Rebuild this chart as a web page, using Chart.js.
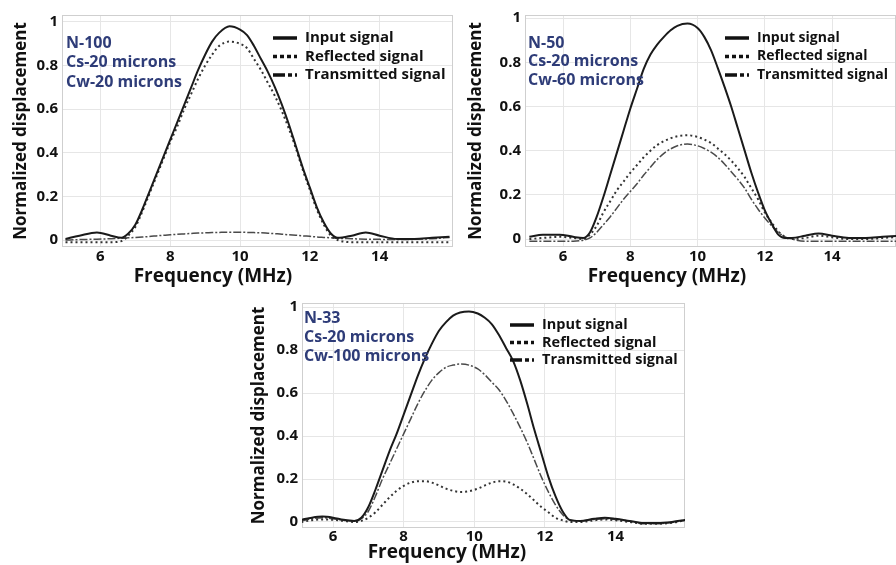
<!DOCTYPE html>
<html>
<head>
<meta charset="utf-8">
<script src="https://cdn.jsdelivr.net/npm/chart.js@4.4.0/dist/chart.umd.min.js"></script>
<style>
    html, body { margin: 0; padding: 0; background: #fff; }
    body { width: 896px; height: 565px; position: relative; overflow: hidden; }
    .panel { position: absolute; }
</style>
</head>
<body>
<div class="panel" style="left:0;top:0;width:458px;height:292px"><canvas id="chartA"></canvas></div>
<div class="panel" style="left:458px;top:0;width:438px;height:292px"><canvas id="chartB"></canvas></div>
<div class="panel" style="left:220px;top:283px;width:475px;height:282px"><canvas id="chartC"></canvas></div>
<script>
// Tick labels shared by the three panels
const xTickValues = [6, 8, 10, 12, 14];
const yTickValues = [0, 0.2, 0.4, 0.6, 0.8, 1];
const yTickLabels = ['0', '0.2', '0.4', '0.6', '0.8', '1'];
const seriesLabels = ['Input signal', 'Reflected signal', 'Transmitted signal'];

// Panel A : N-100, Cw-20 microns
const notesA = ['N-100', 'Cs-20 microns', 'Cw-20 microns'];
const freqA = [5.0, 5.4, 5.9, 6.3, 6.6, 6.8, 7.0, 7.2, 7.4, 7.6, 7.8, 8.0, 8.2, 8.4, 8.6, 8.8, 9.0, 9.2, 9.4, 9.7,
    10.0, 10.2, 10.4, 10.6, 10.8, 11.0, 11.2, 11.4, 11.6, 11.8, 12.0, 12.2, 12.4, 12.6, 12.8, 13.2, 13.6, 14.0, 14.5, 15.0, 15.5, 16.0];
const inputA = [0.005, 0.02, 0.035, 0.02, 0.01, 0.03, 0.07, 0.14, 0.22, 0.30, 0.38, 0.46, 0.54, 0.62, 0.70, 0.78, 0.85, 0.91, 0.95, 0.98,
    0.965, 0.94, 0.89, 0.83, 0.77, 0.70, 0.62, 0.53, 0.43, 0.33, 0.24, 0.15, 0.08, 0.03, 0.01, 0.02, 0.035, 0.02, 0.005, 0.005, 0.01, 0.015];
const reflectedA = [-0.01, -0.01, -0.01, -0.01, -0.005, 0.02, 0.06, 0.13, 0.21, 0.29, 0.37, 0.45, 0.52, 0.60, 0.67, 0.74, 0.80, 0.85, 0.89, 0.91,
    0.90, 0.88, 0.83, 0.78, 0.72, 0.66, 0.59, 0.51, 0.42, 0.32, 0.23, 0.14, 0.07, 0.02, 0.0, -0.01, -0.01, -0.01, -0.01, -0.01, -0.01, -0.01];
const transmittedA = [0.0, 0.002, 0.004, 0.006, 0.008, 0.01, 0.012, 0.014, 0.016, 0.019, 0.022, 0.024, 0.026, 0.028, 0.03, 0.032, 0.033, 0.034, 0.035, 0.036,
    0.036, 0.035, 0.034, 0.033, 0.031, 0.029, 0.027, 0.024, 0.022, 0.019, 0.017, 0.014, 0.012, 0.01, 0.008, 0.006, 0.004, 0.003, 0.002, 0.003, 0.006, 0.012];

// Panel B : N-50, Cw-60 microns
const notesB = ['N-50', 'Cs-20 microns', 'Cw-60 microns'];
const freqB = freqA.slice();
const inputB = [0.01, 0.02, 0.02, 0.01, 0.005, 0.03, 0.10, 0.19, 0.29, 0.39, 0.49, 0.59, 0.68, 0.77, 0.835, 0.88, 0.915, 0.945, 0.965, 0.975,
    0.955, 0.915, 0.855, 0.775, 0.69, 0.60, 0.50, 0.40, 0.30, 0.21, 0.13, 0.07, 0.02, 0.005, 0.005, 0.015, 0.025, 0.015, 0.005, 0.005, 0.01, 0.015];
const reflectedB = [0.0, 0.005, 0.01, 0.005, 0.0, 0.02, 0.06, 0.12, 0.17, 0.22, 0.26, 0.30, 0.335, 0.37, 0.40, 0.425, 0.443, 0.456, 0.465, 0.47,
    0.462, 0.45, 0.435, 0.41, 0.385, 0.355, 0.32, 0.28, 0.23, 0.18, 0.12, 0.075, 0.035, 0.01, 0.0, 0.005, 0.015, 0.008, 0.0, 0.0, 0.005, 0.01];
const transmittedB = [-0.01, -0.01, -0.01, -0.01, -0.005, 0.005, 0.03, 0.065, 0.10, 0.14, 0.18, 0.215, 0.25, 0.29, 0.325, 0.36, 0.388, 0.408, 0.422, 0.43,
    0.422, 0.41, 0.393, 0.37, 0.34, 0.305, 0.27, 0.23, 0.18, 0.135, 0.095, 0.06, 0.03, 0.01, 0.0, -0.01, -0.01, -0.01, -0.01, -0.01, -0.01, -0.01];

// Panel C : N-33, Cw-100 microns
const notesC = ['N-33', 'Cs-20 microns', 'Cw-100 microns'];
const freqC = [5.1, 5.4, 5.7, 6.0, 6.3, 6.6, 6.8, 7.0, 7.2, 7.4, 7.6, 7.8, 8.0, 8.2, 8.4, 8.6, 8.8, 9.0, 9.2, 9.4, 9.6, 9.85,
    10.1, 10.3, 10.5, 10.7, 10.9, 11.1, 11.3, 11.5, 11.7, 11.9, 12.1, 12.3, 12.5, 12.7, 13.0, 13.4, 13.7, 14.0, 14.4, 14.8, 15.2, 15.6, 16.0];
const inputC = [0.01, 0.02, 0.025, 0.02, 0.01, 0.005, 0.02, 0.07, 0.15, 0.24, 0.33, 0.41, 0.50, 0.59, 0.68, 0.76, 0.83, 0.89, 0.93, 0.96, 0.975, 0.98,
    0.97, 0.95, 0.92, 0.87, 0.81, 0.75, 0.66, 0.55, 0.43, 0.32, 0.21, 0.12, 0.05, 0.01, 0.005, 0.015, 0.02, 0.015, 0.005, -0.005, -0.005, 0.0, 0.01];
const reflectedC = [0.0, 0.008, 0.012, 0.01, 0.005, 0.0, 0.005, 0.02, 0.045, 0.08, 0.115, 0.145, 0.168, 0.183, 0.19, 0.19, 0.183, 0.17, 0.155, 0.145, 0.14, 0.143,
    0.155, 0.17, 0.183, 0.19, 0.188, 0.175, 0.155, 0.13, 0.10, 0.07, 0.045, 0.02, 0.008, 0.0, 0.0, 0.008, 0.012, 0.008, 0.0, -0.008, -0.008, -0.004, 0.01];
const transmittedC = [0.005, 0.015, 0.02, 0.015, 0.008, 0.003, 0.015, 0.05, 0.12, 0.20, 0.27, 0.34, 0.41, 0.48, 0.55, 0.61, 0.66, 0.695, 0.72, 0.73, 0.735, 0.73,
    0.712, 0.685, 0.65, 0.615, 0.565, 0.505, 0.44, 0.37, 0.29, 0.21, 0.14, 0.08, 0.035, 0.01, 0.005, 0.012, 0.015, 0.012, 0.003, -0.008, -0.008, -0.002, 0.008];

const FONT = '"Open Sans", "DejaVu Sans", sans-serif';

/**
 * Dessine le cadre, le titre de l'axe X, les notes bleues et la légende.
 */
const insideText = {
    id: 'insideText',
    beforeDatasetsDraw(chart)
    {
        const {ctx, chartArea} = chart;
        ctx.save();
        ctx.strokeStyle = '#cfcfcf';
        ctx.lineWidth = 1;
        ctx.strokeRect(chartArea.left + 0.5, chartArea.top + 0.5, chartArea.width - 1, chartArea.height - 1);
        ctx.restore();
    },
    afterDatasetsDraw(chart, args, opts)
    {
        const {ctx, chartArea} = chart;
        ctx.save();
        ctx.textBaseline = 'middle';

        // titre de l'axe X, décalé vers la gauche comme sur la figure
        ctx.textAlign = 'center';
        ctx.font = `bold 19px ${FONT}`;
        ctx.fillStyle = '#111';
        ctx.fillText('Frequency (MHz)', chartArea.left + opts.titleX, chartArea.bottom + opts.titleY);

        ctx.textAlign = 'left';
        ctx.font = `bold ${opts.noteSize}px ${FONT}`;
        ctx.fillStyle = '#2e3c78';
        opts.notes.forEach((text, i) => {
            ctx.fillText(text, chartArea.left + opts.noteX, chartArea.top + opts.noteY + i * opts.noteGap);
        });

        ctx.font = `bold ${opts.legendSize}px ${FONT}`;
        ctx.fillStyle = '#111';
        ctx.strokeStyle = '#111';
        ctx.lineWidth = 3.5;
        const dashes = [[], [4, 3], [12, 3, 4, 3]];
        chart.data.datasets.forEach((ds, i) => {
            const x = chartArea.left + opts.legendX;
            const y = chartArea.top + opts.legendY + i * opts.legendGap;
            ctx.setLineDash(dashes[i]);
            ctx.beginPath();
            ctx.moveTo(x, y);
            ctx.lineTo(x + 24, y);
            ctx.stroke();
            ctx.setLineDash([]);
            ctx.fillText(ds.label, x + opts.legendTextGap, y);
        });
        ctx.restore();
    }
};

/**
 * Crée un panneau avec les trois signaux.
 * @param {string} id - identifiant du canvas
 * @param {Array} freq - fréquences (MHz)
 * @param {Array} series - [input, reflected, transmitted]
 * @param {Object} p - réglages de mise en page
 */
function createPanel(id, freq, series, p)
{
    const styles = [
        {borderColor: '#1a1a1a', borderWidth: 2, borderDash: []},
        {borderColor: '#333', borderWidth: 2, borderDash: [2, 3]},
        {borderColor: '#4a4a4a', borderWidth: 1.5, borderDash: [8, 2, 2, 2]},
    ];
    const datasets = series.map((values, i) => ({
        label: seriesLabels[i],
        data: freq.map((f, k) => ({x: f, y: values[k]})),
        pointRadius: 0,
        fill: false,
        cubicInterpolationMode: 'monotone',
        ...styles[i],
    }));

    const tickFont = {family: FONT, size: 15, weight: 'bold'};

    return new Chart(document.getElementById(id).getContext('2d'), {
        type: 'line',
        data: {datasets},
        plugins: [insideText],
        options: {
            responsive: true,
            maintainAspectRatio: false,
            animation: false,
            events: [],
            layout: {padding: {left: 0, top: p.top, right: p.right, bottom: 0}},
            plugins: {
                legend: {display: false},
                tooltip: {enabled: false},
                insideText: {
                    titleX: p.titleX, titleY: p.titleY,
                    notes: p.notes, noteSize: p.noteSize, noteX: p.noteX, noteY: p.noteY, noteGap: p.noteGap,
                    legendSize: p.legendSize, legendX: p.legendX, legendY: p.legendY, legendGap: p.legendGap, legendTextGap: 32,
                },
            },
            scales: {
                x: {
                    type: 'linear',
                    min: p.xMin,
                    max: p.xMax,
                    afterBuildTicks: s => { s.ticks = xTickValues.map(v => ({value: v})); },
                    afterFit: s => { s.height = p.xAxisHeight; },
                    grid: {color: '#e6e6e6', drawTicks: false},
                    border: {display: false},
                    ticks: {font: tickFont, color: '#111', padding: p.xTickPad, maxRotation: 0, callback: v => String(v)},
                    title: {display: false},
                },
                y: {
                    type: 'linear',
                    min: p.yMin,
                    max: p.yMax,
                    afterBuildTicks: s => { s.ticks = yTickValues.map(v => ({value: v})); },
                    afterFit: s => { s.width = p.yAxisWidth; },
                    grid: {color: '#e6e6e6', drawTicks: false},
                    border: {display: false},
                    ticks: {font: tickFont, color: '#111', padding: 4, callback: v => yTickLabels[yTickValues.indexOf(v)]},
                    title: {
                        display: true, text: 'Normalized displacement', color: '#111',
                        font: {family: FONT, size: 17, weight: 'bold'}, padding: {top: p.yTitlePad, bottom: 0},
                    },
                },
            },
        },
    });
}

createPanel('chartA', freqA, [inputA, reflectedA, transmittedA], {
    notes: notesA, noteSize: 16, noteX: 4, noteY: 28, noteGap: 19.5,
    legendSize: 15, legendX: 211, legendY: 23, legendGap: 18.5, titleX: 151, titleY: 30,
    xMin: 4.9, xMax: 16.1, yMin: -0.032, yMax: 1.032,
    top: 15, right: 5, xAxisHeight: 45, yAxisWidth: 62, xTickPad: 1, yTitlePad: 11,
});

createPanel('chartB', freqB, [inputB, reflectedB, transmittedB], {
    notes: notesB, noteSize: 16, noteX: 3, noteY: 28, noteGap: 18.5,
    legendSize: 14, legendX: 200, legendY: 23, legendGap: 18.5, titleX: 142, titleY: 30,
    xMin: 4.87, xMax: 15.9, yMin: -0.036, yMax: 1.014,
    top: 15, right: 0, xAxisHeight: 45, yAxisWidth: 67, xTickPad: 1, yTitlePad: 8,
});

createPanel('chartC', freqC, [inputC, reflectedC, transmittedC], {
    notes: notesC, noteSize: 16, noteX: 2, noteY: 15, noteGap: 19,
    legendSize: 14.5, legendX: 208, legendY: 22, legendGap: 17.5, titleX: 145, titleY: 25,
    xMin: 5.12, xMax: 15.97, yMin: -0.028, yMax: 1.019,
    top: 20, right: 10, xAxisHeight: 37, yAxisWidth: 82, xTickPad: 0, yTitlePad: 29,
});
</script>
</body>
</html>
